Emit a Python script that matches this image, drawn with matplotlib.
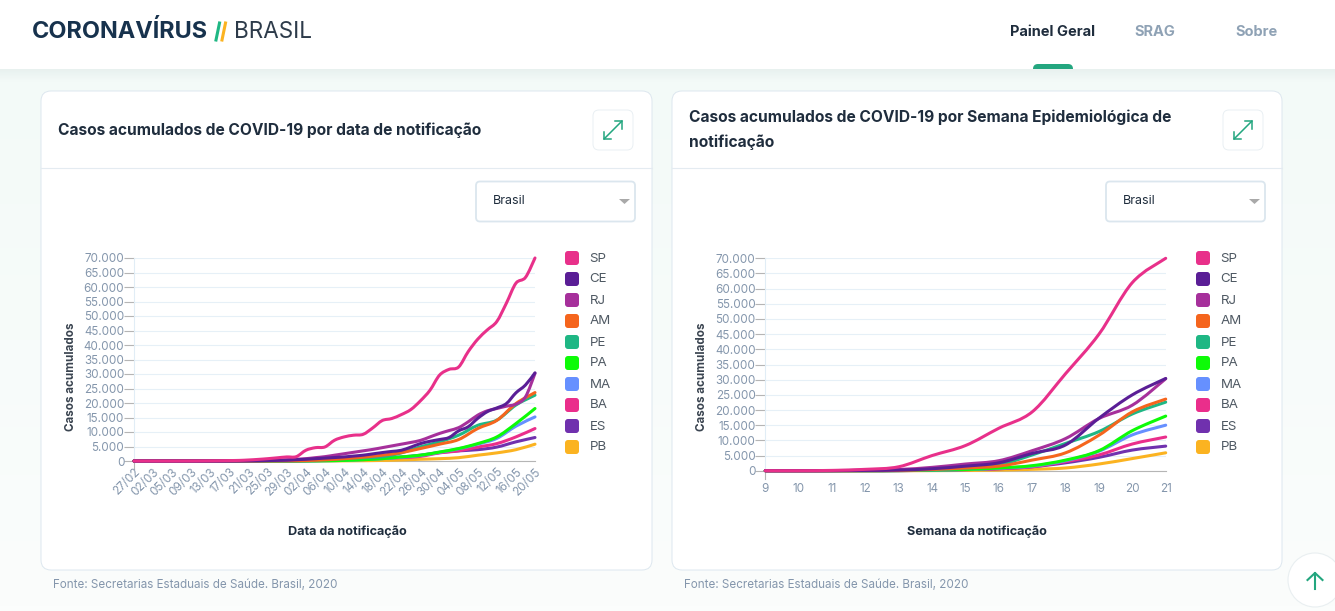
import numpy as np
import matplotlib
matplotlib.use('Agg')
from matplotlib import pyplot as plt
from matplotlib.patches import FancyBboxPatch, PathPatch, Rectangle, Circle, Polygon
from matplotlib.path import Path

plt.rcParams['font.family'] = ['Inter', 'Lato', 'DejaVu Sans']

estados = ['SP', 'CE', 'RJ', 'AM', 'PE', 'PA', 'MA', 'BA', 'ES', 'PB']
cores = ['#e8308a', '#5a1e96', '#a6309b', '#f5651d', '#1fb784',
         '#0dfb07', '#6690ff', '#ea2e8b', '#7031ae', '#fbb321']

datas = ['27/02', '02/03', '05/03', '09/03', '13/03', '17/03', '21/03', '25/03',
         '29/03', '02/04', '06/04', '10/04', '14/04', '18/04', '22/04', '26/04',
         '30/04', '04/05', '08/05', '12/05', '16/05', '20/05']
semanas = [9, 10, 11, 12, 13, 14, 15, 16, 17, 18, 19, 20, 21]
ticks_y = list(range(0, 70001, 5000))

# casos por data, two points per label
sp_data = [0, 0, 0, 0, 0, 10, 20, 40, 70, 100, 150, 200, 350, 550, 800, 1100, 1400, 1500,
           3700, 4600, 4850, 7150, 8300, 8900, 9200, 11400, 13950, 14650, 16000, 17750,
           20750, 24400, 29600, 31600, 32400, 37700, 42000, 45200, 48100, 54400, 61300,
           63300, 70000]
ce_data = [0, 0, 0, 0, 0, 0, 0, 0, 0, 0, 20, 40, 70, 100, 150, 220, 300, 450, 600, 800,
           1000, 1200, 1400, 1700, 2000, 2450, 2900, 3300, 3700, 4800, 6000, 6800, 7400,
           8100, 10400, 11800, 14700, 17000, 18300, 19800, 23500, 26200, 30400]
rj_data = [0, 0, 0, 0, 0, 0, 0, 0, 0, 0, 20, 50, 80, 130, 200, 300, 400, 600, 800, 1150,
           1500, 2000, 2500, 3000, 3500, 4000, 4600, 5200, 5800, 6400, 7100, 8300, 9500,
           10500, 11500, 13500, 15800, 17300, 18100, 18900, 19600, 22100, 30200]
# one point per label
am_data = [0, 0, 0, 0, 0, 0, 10, 30, 60, 150, 400, 800, 1300, 2000, 2900, 4300, 5800, 7400,
           11200, 14000, 19800, 23600]
pe_data = [0, 0, 0, 0, 0, 0, 10, 30, 60, 150, 400, 800, 1100, 1400, 2800, 4900, 6600, 8900,
           12300, 14100, 19300, 22700]
pa_data = [0, 0, 0, 0, 0, 0, 0, 0, 10, 30, 80, 200, 450, 800, 1400, 2000, 3100, 4300,
           6000, 8300, 12900, 18100]
ma_data = [0, 0, 0, 0, 0, 0, 0, 0, 10, 30, 80, 200, 450, 800, 1300, 1900, 3000, 4200,
           5800, 7800, 12000, 15200]
ba_data = [0, 0, 0, 0, 0, 0, 10, 30, 60, 150, 300, 500, 700, 900, 1150, 1600, 2800, 3500,
           4800, 6000, 8300, 11200]
es_data = [0, 0, 0, 0, 0, 0, 0, 10, 30, 80, 200, 450, 700, 1000, 1400, 2000, 2900, 3500,
           3900, 4800, 6600, 8100]
pb_data = [0, 0, 0, 0, 0, 0, 0, 0, 0, 10, 30, 60, 100, 200, 350, 600, 800, 1150,
           2000, 2800, 3900, 5800]

# casos por semana
sp_sem = [0, 0, 100, 450, 1300, 5000, 8300, 14000, 19400, 32000, 45000, 62000, 70000]
ce_sem = [0, 0, 20, 100, 200, 650, 1500, 2600, 5700, 8500, 17300, 25000, 30400]
rj_sem = [0, 0, 30, 200, 400, 1100, 2200, 3300, 6600, 10600, 17200, 21600, 30300]
am_sem = [0, 0, 0, 20, 100, 400, 900, 1500, 3500, 5900, 11700, 19400, 23600]
pe_sem = [0, 0, 0, 20, 80, 300, 800, 1900, 5200, 9000, 12900, 18700, 22600]
pa_sem = [0, 0, 0, 0, 30, 200, 400, 900, 1650, 3500, 6600, 13200, 18000]
ma_sem = [0, 0, 0, 0, 30, 150, 350, 800, 1500, 3300, 6400, 11800, 15000]
ba_sem = [0, 0, 0, 10, 40, 150, 350, 650, 1300, 3000, 5200, 8800, 11100]
es_sem = [0, 0, 0, 10, 40, 150, 350, 650, 1300, 2600, 4400, 6800, 8100]
pb_sem = [0, 0, 0, 0, 0, 30, 80, 200, 450, 900, 2200, 4000, 5900]

series_data = [sp_data, ce_data, rj_data, am_data, pe_data, pa_data, ma_data, ba_data, es_data, pb_data]
series_sem = [sp_sem, ce_sem, rj_sem, am_sem, pe_sem, pa_sem, ma_sem, ba_sem, es_sem, pb_sem]

W, H = 1335, 611
TXT = '#1f2d3d'
CINZA = '#8496ac'
VERDE = '#23a67f'
CMAP_BG = matplotlib.colors.LinearSegmentedColormap.from_list('bg', ['#f3faf8', '#fbfdfc'])
CMAP_SH = matplotlib.colors.LinearSegmentedColormap.from_list('sh', ['#e8f1ef', '#f3faf8'])


def fmt_milhar(v):
    return f'{v:,}'.replace(',', '.')


def box(ax, x0, y0, x1, y1, r, fc, ec='none', lw=1, z=1, **kw):
    p = FancyBboxPatch((x0 + r, y0 + r), x1 - x0 - 2*r, y1 - y0 - 2*r,
                       boxstyle=f'round,pad={r},rounding_size={r}',
                       fc=fc, ec=ec, lw=lw, zorder=z, **kw)
    ax.add_patch(p)
    return p


def smooth_line(ax, x, y, color):
    # catmull-rom through the read values, the site draws smoothed lines
    x = np.asarray(x, float)
    y = np.asarray(y, float)
    verts = [(x[0], y[0])]
    codes = [Path.MOVETO]
    n = len(x)
    for i in range(n - 1):
        im = max(i - 1, 0)
        ip = min(i + 2, n - 1)
        c1 = (x[i] + (x[i+1] - x[im]) / 6, max(y[i] + (y[i+1] - y[im]) / 6, y[i]))
        c2 = (x[i+1] - (x[ip] - x[i]) / 6, min(y[i+1] - (y[ip] - y[i]) / 6, y[i+1]))
        verts += [c1, c2, (x[i+1], y[i+1])]
        codes += [Path.CURVE4] * 3
    ax.add_patch(PathPatch(Path(verts, codes), fill=False, ec=color, lw=2.2,
                           capstyle='round', joinstyle='round', clip_on=False, zorder=3))


def style_axes(ax, xlabel):
    ax.set_ylim(0, 70000)
    ax.set_yticks(ticks_y)
    ax.set_yticklabels([fmt_milhar(v) for v in ticks_y])
    ax.patch.set_alpha(0)
    ax.grid(axis='y', color='#e6f0f7', lw=0.8)
    ax.set_axisbelow(True)
    for s in ['top', 'right']:
        ax.spines[s].set_visible(False)
    ax.spines['left'].set_color('#e1edf6')
    ax.spines['bottom'].set_color('#b5b5b5')
    ax.tick_params(axis='y', colors=CINZA, labelsize=8.4, length=7, width=0.8, color='#b5b5b5', pad=0)
    ax.tick_params(axis='x', colors=CINZA, labelsize=8.4, length=0)
    ax.set_ylabel('Casos acumulados', fontsize=8.4, fontweight='bold', color='#3a4450')
    ax.set_xlabel(xlabel, fontsize=9.1, fontweight='bold', color=TXT, va='center')


def card(page, x0, x1, titulo, title_y):
    box(page, x0, 91, x1, 570, 10, 'white', '#dde7ef', 0.7, z=1)
    page.plot([x0, x1], [168, 168], color='#e4ebf1', lw=0.8, zorder=2)
    page.text(x0 + 17, title_y, titulo, fontsize=11.2, fontweight='bold', color=TXT,
              va='center', linespacing=1.75, zorder=2)
    # expand button
    bx = x1 - 59
    box(page, bx, 110, bx + 40, 150, 6, 'white', '#e9eff3', 0.7, z=2)
    page.plot([bx + 22, bx + 29, bx + 29], [121, 121, 128.5], color=VERDE, lw=1.1, zorder=3)
    page.plot([bx + 11, bx + 11, bx + 18], [131.5, 139, 139], color=VERDE, lw=1.1, zorder=3)
    page.plot([bx + 11, bx + 29], [139, 121], color=VERDE, lw=1.1, zorder=3)
    # select
    sx = x1 - 176
    box(page, sx, 181.5, sx + 159, 221.5, 4, 'white', '#dbe6ee', 1.3, z=2)
    page.text(sx + 17, 201, 'Brasil', fontsize=9, color=TXT, va='center', zorder=3)
    page.add_patch(Polygon([(sx + 143, 199), (sx + 154, 199), (sx + 148.5, 204)], fc='#a9a9a9', ec='none', zorder=3))
    # fonte
    page.text(x0 + 12, 584.5, 'Fonte: Secretarias Estaduais de Saúde. Brasil, 2020', fontsize=8.4,
              color=CINZA, va='center', zorder=3)


def legenda(page, x):
    for i, (e, c) in enumerate(zip(estados, cores)):
        y = 258 + i * 21
        box(page, x, y - 7, x + 14, y + 7, 3, c, z=3)
        page.text(x + 24.5, y + 0.5, e, fontsize=9.6, color='#4f5963', va='center', zorder=3)


fig = plt.figure(figsize=(W / 100, H / 100), dpi=100)
page = fig.add_axes([0, 0, 1, 1])

# background and header
page.imshow(np.linspace(0, 1, 100).reshape(-1, 1), extent=[0, W, H, 69], aspect='auto', zorder=0, cmap=CMAP_BG)
page.imshow(np.linspace(0, 1, 20).reshape(-1, 1), extent=[0, W, 82, 69], aspect='auto', zorder=0.5, cmap=CMAP_SH)
page.set_xlim(0, W)
page.set_ylim(H, 0)
page.axis('off')
page.add_patch(Rectangle((0, 0), W, 69, fc='white', ec='none', zorder=1))
page.text(32, 32, 'CORONAVÍRUS', fontsize=16.9, fontweight='bold', color='#17324d', va='center', zorder=2)
page.plot([216, 219.5], [40, 23], color='#1fb784', lw=2.2, zorder=2)
page.plot([222, 225.5], [40, 23], color='#fbb321', lw=2.2, zorder=2)
page.text(234, 32, 'BRASIL', fontsize=16.2, color='#2d3b4a', va='center', zorder=2)
page.text(1053, 32, 'Painel Geral', fontsize=10.5, fontweight='bold', color=TXT, va='center', ha='center', zorder=2)
page.text(1155, 32, 'SRAG', fontsize=10.5, fontweight='bold', color='#8fa2b5', va='center', ha='center', zorder=2)
page.text(1257, 32, 'Sobre', fontsize=10.5, fontweight='bold', color='#8fa2b5', va='center', ha='center', zorder=2)
box(page, 1033, 64, 1073, 76, 5, VERDE, z=1)
page.imshow(np.linspace(0, 1, 20).reshape(-1, 1), extent=[1030, 1076, 82, 69], aspect='auto', zorder=1.5, cmap=CMAP_SH)
page.set_xlim(0, W)
page.set_ylim(H, 0)

card(page, 41, 652, 'Casos acumulados de COVID-19 por data de notificação', 130)
card(page, 672, 1282, 'Casos acumulados de COVID-19 por Semana Epidemiológica de\nnotificação', 130)
legenda(page, 565)
legenda(page, 1196)

# first category tick on each chart
page.plot([134, 134], [461, 469], color='#b5b5b5', lw=0.8, zorder=2)
page.plot([765.3, 765.3], [470.7, 479], color='#b5b5b5', lw=0.8, zorder=2)

# scroll button
page.add_patch(Circle((1315, 580), 27, fc='white', ec='#e9eff1', lw=0.8, zorder=2))
page.plot([1315, 1315], [589, 573], color=VERDE, lw=1.5, zorder=3)
page.plot([1307.5, 1315, 1322.5], [580, 573, 580], color=VERDE, lw=1.5, zorder=3)

# left chart
ax1 = fig.add_axes([134 / W, 1 - 461 / H, 401 / W, 203 / H])
style_axes(ax1, 'Data da notificação')
ax1.set_xlim(0, 42)
ax1.set_xticks(range(0, 43, 2))
ax1.set_xticklabels(datas, rotation=45, ha='right', rotation_mode='anchor')
ax1.yaxis.set_label_coords(-0.142, 0.414)
ax1.xaxis.set_label_coords(0.531, -0.35)
for s, c in reversed(list(zip(series_data, cores))):
    x = np.arange(len(s)) if len(s) == 43 else np.arange(len(s)) * 2
    smooth_line(ax1, x, s, c)

# right chart
ax2 = fig.add_axes([765.3 / W, 1 - 470.7 / H, 400.4 / W, 212.4 / H])
style_axes(ax2, 'Semana da notificação')
ax2.set_xlim(9, 21)
ax2.set_xticks(semanas)
ax2.tick_params(axis='x', pad=9)
ax2.yaxis.set_label_coords(-0.143, 0.441)
ax2.xaxis.set_label_coords(0.529, -0.288)
for s, c in reversed(list(zip(series_sem, cores))):
    smooth_line(ax2, semanas, s, c)

fig.savefig('out.png', dpi=100)
